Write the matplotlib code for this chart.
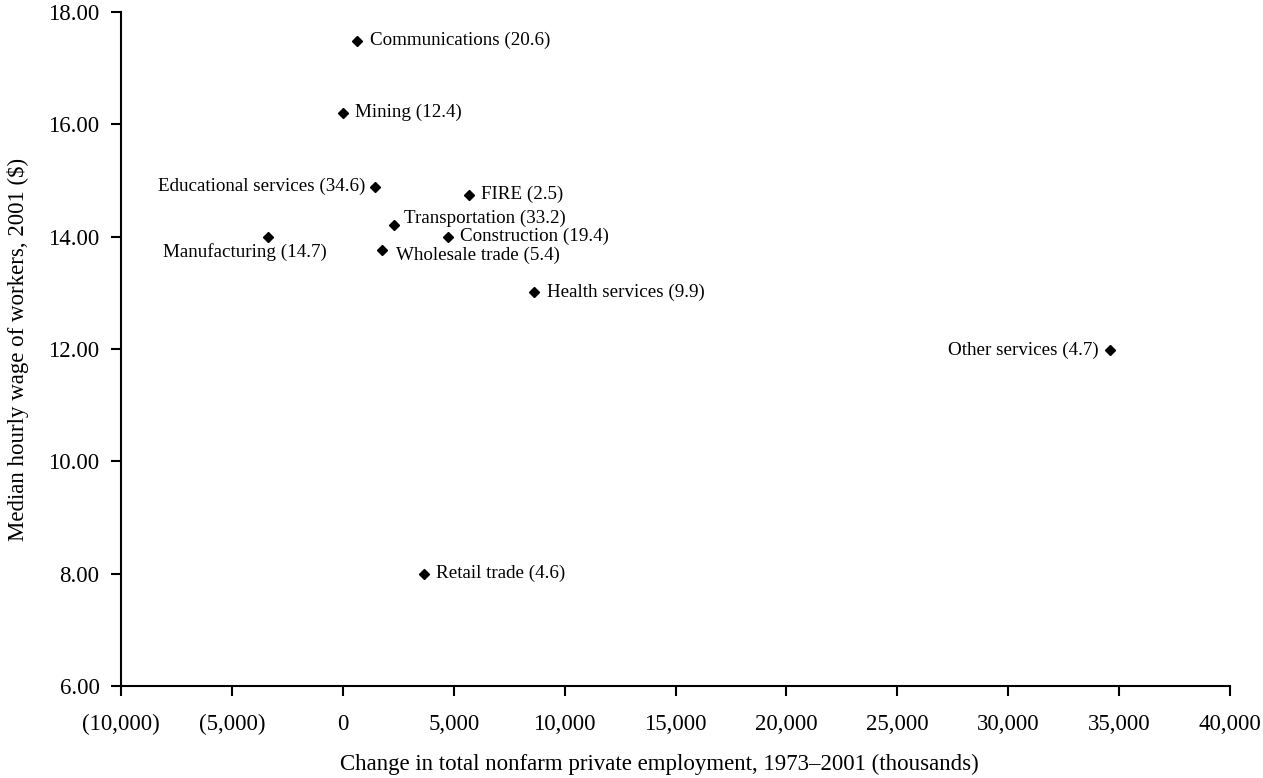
import matplotlib
matplotlib.use("Agg")
import matplotlib.pyplot as plt
from matplotlib.ticker import FuncFormatter, MultipleLocator

# ---- data ----
sectors = ["Communications", "Mining", "Educational services", "FIRE",
           "Transportation", "Manufacturing", "Construction", "Wholesale trade",
           "Health services", "Other services", "Retail trade"]
share_values = ["20.6", "12.4", "34.6", "2.5", "33.2", "14.7", "19.4", "5.4",
                "9.9", "4.7", "4.6"]
employment_change = [630, 30, 1430, 5680, 2320, -3380, 4750, 1770, 8600, 34600, 3660]
median_wage = [17.49, 16.21, 14.88, 14.75, 14.20, 14.00, 14.00, 13.76, 13.01, 11.98, 8.00]

# label placement (pixel offsets, alignment)
label_offsets = [(13, 0, "left"), (12, 0, "left"), (-9, 1, "right"), (12, 0, "left"),
                 (10, 7, "left"), (-23, -15, "center"), (12, 0, "left"), (14, -5, "left"),
                 (13, 0, "left"), (-12, 0, "right"), (12, 0, "left")]

plt.rcParams['font.family'] = ['Liberation Serif', 'DejaVu Serif']

fig = plt.figure(figsize=(12.63, 7.78), dpi=100)
ax = fig.add_axes([121/1263, 1 - 686/778, (1230-121)/1263, (686-12)/778])

ax.plot(employment_change, median_wage, linestyle="none", marker="D",
        markersize=5.5, color="black")

for name, val, x, y, (dx, dy, ha) in zip(sectors, share_values, employment_change,
                                          median_wage, label_offsets):
    ax.annotate(f"{name} ({val})", (x, y), xytext=(dx, dy), textcoords="offset pixels",
                ha=ha, va="center", fontsize=13.7, color="black")

ax.set_xlim(-10000, 40000)
ax.set_ylim(6, 18)
ax.xaxis.set_major_locator(MultipleLocator(5000))
ax.yaxis.set_major_locator(MultipleLocator(2))

def xfmt(v, pos):
    if v < 0:
        return f"({abs(v):,.0f})"
    return f"{v:,.0f}"

ax.xaxis.set_major_formatter(FuncFormatter(xfmt))
ax.yaxis.set_major_formatter(FuncFormatter(lambda v, p: f"{v:.2f}"))

for s in ["top", "right"]:
    ax.spines[s].set_visible(False)
for s in ["left", "bottom"]:
    ax.spines[s].set_linewidth(1.5)

ax.tick_params(axis="both", direction="out", length=7, width=1.5, labelsize=16.5)
ax.tick_params(axis="x", pad=13)
ax.tick_params(axis="y", pad=8.5)

ax.set_xlabel("Change in total nonfarm private employment, 1973\u20132001 (thousands)",
              fontsize=16.5)
ax.set_ylabel("Median hourly wage of workers, 2001 ($)", fontsize=16.5)
ax.xaxis.set_label_coords((659.5 - 121) / 1109, (686 - 754) / 674)
ax.yaxis.set_label_coords((29 - 121) / 1109, 0.5)

fig.savefig("out.png", dpi=100)
